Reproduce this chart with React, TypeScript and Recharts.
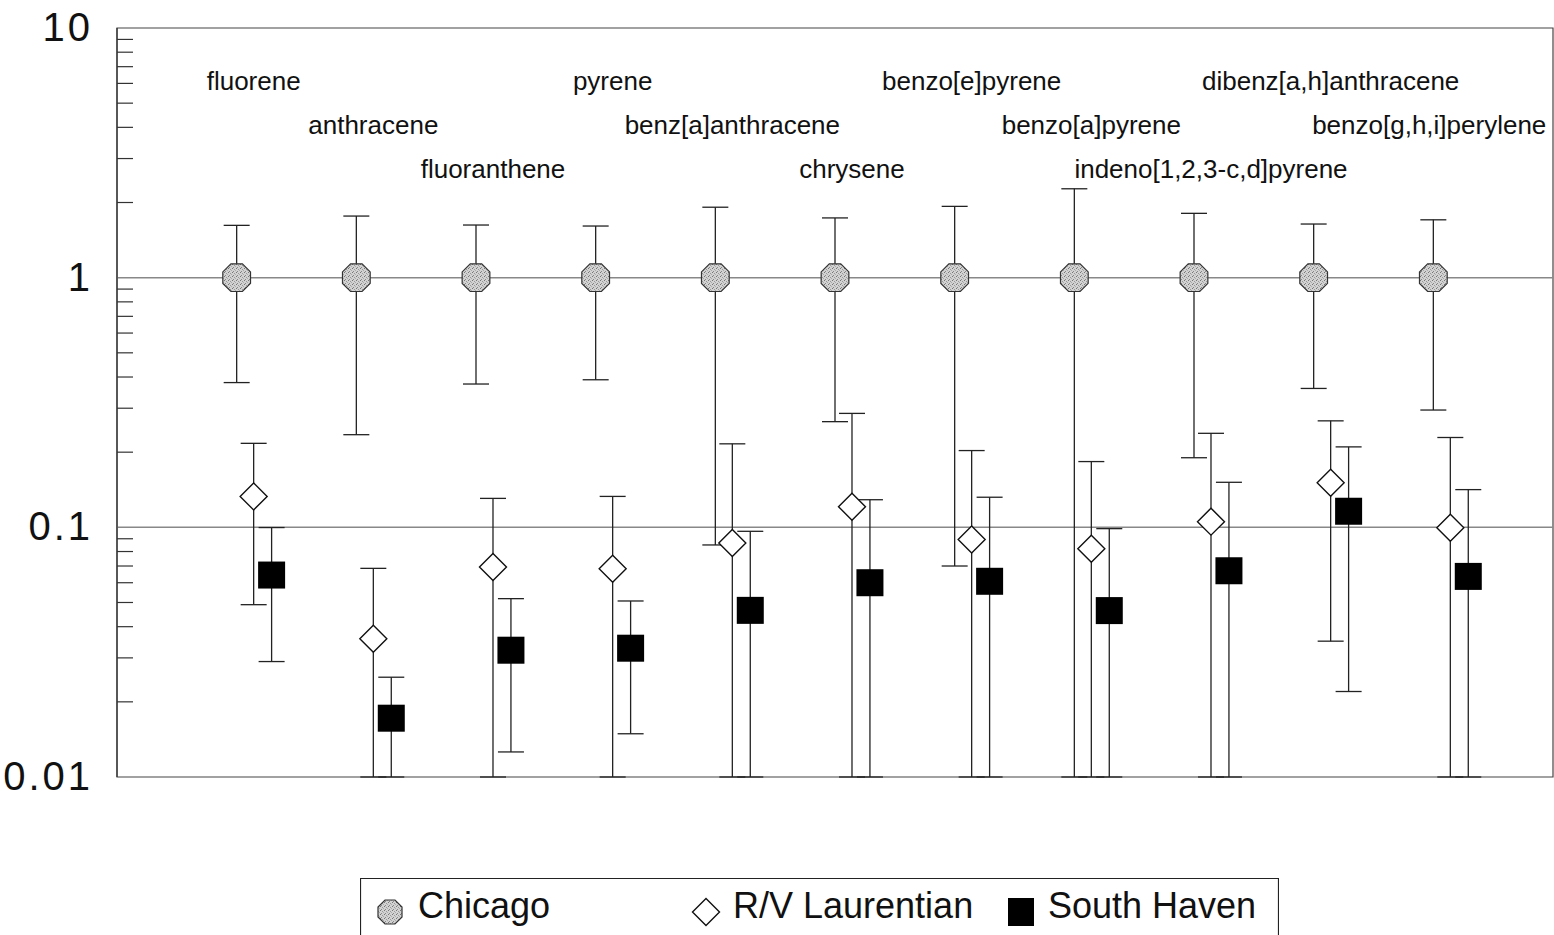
import React from "react";
import { ScatterChart, Scatter, XAxis, YAxis, ErrorBar, ReferenceLine, ReferenceArea } from "recharts";

const compounds = [
  "fluorene",
  "anthracene",
  "fluoranthene",
  "pyrene",
  "benz[a]anthracene",
  "chrysene",
  "benzo[e]pyrene",
  "benzo[a]pyrene",
  "indeno[1,2,3-c,d]pyrene",
  "dibenz[a,h]anthracene",
  "benzo[g,h,i]perylene",
];

// normalised to Chicago = 1, error bars are +/- 1 SD
const chicagoMean = [1, 1, 1, 1, 1, 1, 1, 1, 1, 1, 1];
const chicagoSd = [0.62, 0.765, 0.625, 0.61, 0.915, 0.735, 0.93, 1.27, 0.81, 0.64, 0.705];
const laurentianMean = [0.133, 0.0358, 0.0693, 0.0683, 0.0865, 0.121, 0.0893, 0.082, 0.1054, 0.151, 0.0997];
const laurentianSd = [0.084, 0.0327, 0.0613, 0.0647, 0.1295, 0.165, 0.1137, 0.1014, 0.1326, 0.116, 0.1293];
const southHavenMean = [0.0644, 0.0172, 0.0322, 0.0328, 0.0465, 0.06, 0.0608, 0.0464, 0.067, 0.116, 0.0636];
const southHavenSd = [0.0354, 0.0079, 0.0196, 0.0179, 0.0499, 0.069, 0.0712, 0.0524, 0.0845, 0.094, 0.078];

const seriesNames = ["Chicago", "R/V Laurentian", "South Haven"];
const yMajor = [0.01, 0.1, 1, 10];
const yMinorSteps = [2, 3, 4, 5, 6, 7, 8, 9];

// horizontal offset of each series inside a compound group
const seriesOffset = [0, 0.142, 0.292];
// lower SD ends below the axis minimum (often below zero) are cut at the axis
const FLOOR = yMajor[0];

const build = (mean: number[], sd: number[], off: number) =>
  mean.map((m, i) => ({ x: i + 1 + off, y: m, err: [Math.min(sd[i], m - FLOOR), sd[i]] }));

const chicagoData = build(chicagoMean, chicagoSd, seriesOffset[0]);
const laurentianData = build(laurentianMean, laurentianSd, seriesOffset[1]);
const southHavenData = build(southHavenMean, southHavenSd, seriesOffset[2]);

const labelTicks = compounds.map((_, i) => i + 1 + seriesOffset[1]);
const yTicks = [
  ...yMajor,
  ...yMajor.slice(0, -1).flatMap((d) => yMinorSteps.map((s) => +(d * s).toPrecision(3))),
];

const octagon = (cx: number, cy: number, r: number) => {
  const pts = [];
  for (let k = 0; k < 8; k++) {
    const a = (Math.PI / 8) * (2 * k + 1);
    pts.push(`${cx + r * Math.cos(a)},${cy + r * Math.sin(a)}`);
  }
  return pts.join(" ");
};

const diamond = (cx: number, cy: number, r: number) =>
  `${cx},${cy - r} ${cx + r},${cy} ${cx},${cy + r} ${cx - r},${cy}`;

const ChicagoShape = (p: any) => (
  <polygon points={octagon(p.cx, p.cy, 15)} fill="url(#stipple)" stroke="#333" strokeWidth={1.2} />
);
const LaurentianShape = (p: any) => (
  <polygon points={diamond(p.cx, p.cy, 13.5)} fill="#fff" stroke="#111" strokeWidth={1.4} />
);
const SouthHavenShape = (p: any) => (
  <rect x={p.cx - 13.5} y={p.cy - 13.5} width={27} height={27} fill="#000" />
);

const CompoundTick = (props: any) => {
  const { x, y, index } = props;
  const row = index % 3;
  const last = index === compounds.length - 1;
  return (
    <text
      x={last ? x + 96 : x}
      y={y + 62 + row * 44}
      textAnchor={last ? "end" : "middle"}
      fontSize={26}
      fill="#111"
    >
      {compounds[index]}
    </text>
  );
};

const LogTick = (props: any) => {
  const { x, y, payload } = props;
  const v = payload.value;
  if (yMajor.includes(v)) {
    return (
      <text x={x - 24} y={y + 13} textAnchor="end" fontSize={40} letterSpacing={3} fill="#111">
        {String(v)}
      </text>
    );
  }
  return <line x1={x} x2={x + 16} y1={y} y2={y} stroke="#333" strokeWidth={1.2} />;
};

export default function App() {
  return (
    <div
      style={{
        position: "absolute",
        left: 0,
        top: 0,
        width: 1554,
        height: 935,
        background: "#fff",
        fontFamily: "'Liberation Sans', Arial, sans-serif",
        overflow: "hidden",
      }}
    >
      <svg width={0} height={0} style={{ position: "absolute" }}>
        <defs>
          <pattern id="stipple" width={4} height={4} patternUnits="userSpaceOnUse">
            <rect width={4} height={4} fill="#d2d2d2" />
            <rect x={0} y={0} width={1} height={1} fill="#777" />
            <rect x={2} y={1} width={1} height={1} fill="#999" />
            <rect x={1} y={3} width={1} height={1} fill="#888" />
            <rect x={3} y={2} width={1} height={1} fill="#aaa" />
          </pattern>
        </defs>
      </svg>
      <ScatterChart width={1554} height={800} margin={{ top: 27, right: 1, bottom: 23, left: 0 }}>
        <XAxis
          type="number"
          dataKey="x"
          domain={[0, 12]}
          orientation="top"
          height={1}
          ticks={labelTicks}
          interval={0}
          tickLine={false}
          axisLine={false}
          tickSize={0}
          tickMargin={0}
          tick={<CompoundTick />}
          allowDataOverflow
        />
        <YAxis
          type="number"
          dataKey="y"
          scale="log"
          domain={[0.01, 10]}
          ticks={yTicks}
          interval={0}
          width={117}
          tickLine={false}
          tickSize={0}
          tickMargin={0}
          axisLine={{ stroke: "#333", strokeWidth: 1.2 }}
          tick={<LogTick />}
          allowDataOverflow
        />
        <ReferenceArea x1={0} x2={12} y1={0.01} y2={10} fill="none" stroke="#444" strokeWidth={1.2} />
        {yMajor.slice(1, -1).map((v) => (
          <ReferenceLine key={v} y={v} stroke="#888" strokeWidth={1.5} />
        ))}
        <Scatter name={seriesNames[0]} data={chicagoData} shape={ChicagoShape} isAnimationActive={false}>
          <ErrorBar dataKey="err" direction="y" width={13} stroke="#222" strokeWidth={1.3} />
        </Scatter>
        <Scatter name={seriesNames[1]} data={laurentianData} shape={LaurentianShape} isAnimationActive={false}>
          <ErrorBar dataKey="err" direction="y" width={13} stroke="#222" strokeWidth={1.3} />
        </Scatter>
        <Scatter name={seriesNames[2]} data={southHavenData} shape={SouthHavenShape} isAnimationActive={false}>
          <ErrorBar dataKey="err" direction="y" width={13} stroke="#222" strokeWidth={1.3} />
        </Scatter>
      </ScatterChart>
      <svg width={919} height={57} style={{ position: "absolute", left: 360, top: 878 }}>
        <path d="M0.5,57 V0.5 H918.5 V57" fill="none" stroke="#222" strokeWidth={1.2} />
        <polygon points={octagon(30, 34, 13)} fill="url(#stipple)" stroke="#333" strokeWidth={1.2} />
        <text x={58} y={40} fontSize={36} fill="#111">{seriesNames[0]}</text>
        <polygon points={diamond(346, 34, 13.5)} fill="#fff" stroke="#111" strokeWidth={1.4} />
        <text x={373} y={40} fontSize={36} fill="#111">{seriesNames[1]}</text>
        <rect x={648} y={20} width={26} height={28} fill="#000" />
        <text x={688} y={40} fontSize={36} fill="#111">{seriesNames[2]}</text>
      </svg>
    </div>
  );
}
